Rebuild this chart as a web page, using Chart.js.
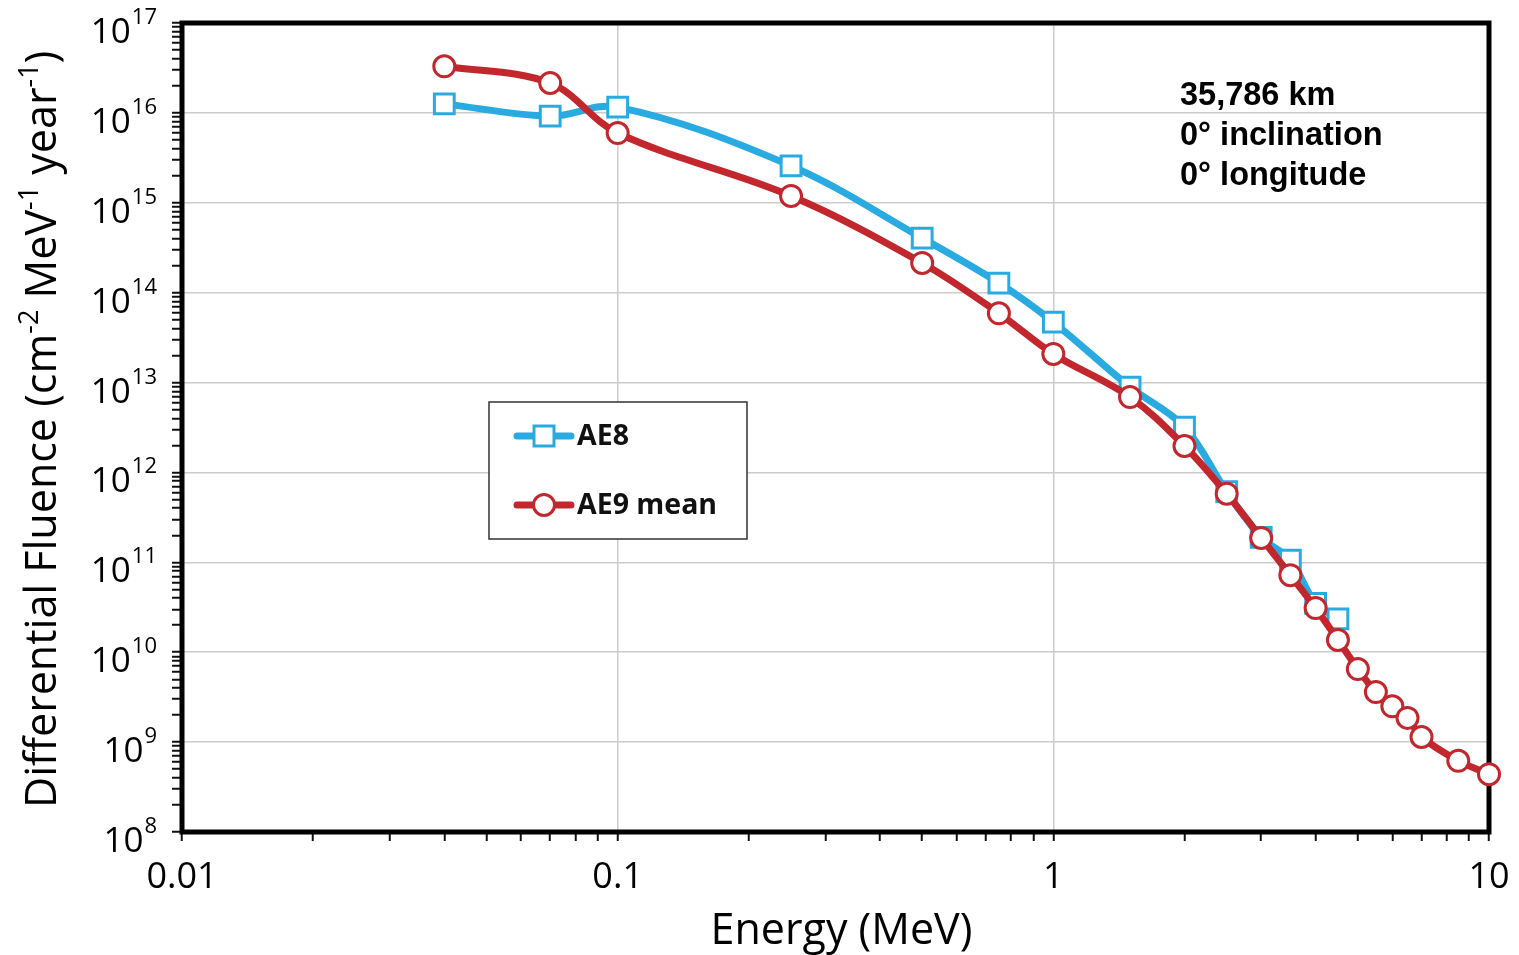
<!DOCTYPE html>
<html lang="en">
<head>
<meta charset="UTF-8">
<title>AE8 vs AE9 mean - differential fluence</title>
<script src="https://cdn.jsdelivr.net/npm/chart.js"></script>
<style>
  html, body { margin: 0; padding: 0; background: #fff; }
  #wrap { width: 1519px; height: 955px; position: relative; }
</style>
</head>
<body>
<div id="wrap"><canvas id="chartCanvas"></canvas></div>
<script>
// values (energy in MeV, fluence in cm^-2 MeV^-1 year^-1)
const ae8Energy = [0.04, 0.07, 0.1, 0.25, 0.5, 0.75, 1, 1.5, 2, 2.5, 3, 3.5, 4, 4.5];
const ae8Fluence = [1.26e16, 9.2e15, 1.16e16, 2.57e15, 4.05e14, 1.28e14, 4.7e13, 8.9e12, 3.2e12, 6.1e11, 1.9e11, 1.06e11, 3.5e10, 2.35e10];
const ae9Energy = [0.04, 0.07, 0.1, 0.25, 0.5, 0.75, 1, 1.5, 2, 2.5, 3, 3.5, 4, 4.5, 5, 5.5, 6, 6.5, 7, 8.5, 10];
const ae9Fluence = [3.3e16, 2.15e16, 5.97e15, 1.19e15, 2.14e14, 5.9e13, 2.08e13, 6.9e12, 1.97e12, 5.8e11, 1.87e11, 7.2e10, 3.1e10, 1.37e10, 6.5e9, 3.6e9, 2.5e9, 1.86e9, 1.14e9, 6.2e8, 4.4e8];
const xTickLabels = ['0.01', '0.1', '1', '10'];
const yExponents = [8, 9, 10, 11, 12, 13, 14, 15, 16, 17];
const infoLines = ['35,786 km', '0\u00b0 inclination', '0\u00b0 longitude'];

const BLUE = '#29abe2';
const RED = '#c1272d';
const FONT = '"Open Sans", sans-serif';

// 1..9 x 10^e ticks so the minor tick marks show
function logTicks(minExp, maxExp) {
  const t = [];
  for (let e = minExp; e < maxExp; e++) {
    for (let m = 1; m < 10; m++) t.push({ value: m * Math.pow(10, e), major: m === 1 });
  }
  t.push({ value: Math.pow(10, maxExp), major: true });
  return t;
}

function pts(xs, ys) {
  return xs.map((x, i) => ({ x: x, y: ys[i] }));
}

const framePlugin = {
  id: 'frame',
  beforeDatasetsDraw(chart) {
    const a = chart.chartArea, ctx = chart.ctx;
    ctx.save();
    ctx.strokeStyle = '#000';
    ctx.lineWidth = 5;
    ctx.strokeRect(a.left, a.top, a.right - a.left, a.bottom - a.top);
    ctx.restore();
  }
};

const textPlugin = {
  id: 'texts',
  afterDraw(chart) {
    const ctx = chart.ctx, ys = chart.scales.y, a = chart.chartArea;
    ctx.save();
    ctx.fillStyle = '#000';

    // y tick labels 10^n
    yExponents.forEach(e => {
      const py = ys.getPixelForValue(Math.pow(10, e));
      ctx.font = '22px ' + FONT;
      const sup = String(e);
      const sw = ctx.measureText(sup).width;
      ctx.textAlign = 'left';
      ctx.textBaseline = 'alphabetic';
      const right = 157;
      ctx.fillText(sup, right - sw, py + 1);
      ctx.font = '35px ' + FONT;
      const bw = ctx.measureText('10').width;
      ctx.fillText('10', right - sw - bw - 1, py + 20);
    });

    // y axis title with superscripts
    const parts = [['Differential Fluence (cm', 0], ['-2', 1], [' MeV', 0], ['-1', 1], [' year', 0], ['-1', 1], [')', 0]];
    ctx.save();
    ctx.translate(56, 808);
    ctx.rotate(-Math.PI / 2);
    let x = 0;
    parts.forEach(p => {
      ctx.font = (p[1] ? '27px ' : '43px ') + FONT;
      ctx.fillText(p[0], x, p[1] ? -18 : 0);
      x += ctx.measureText(p[0]).width;
    });
    ctx.restore();

    // x axis title
    ctx.font = '43px ' + FONT;
    ctx.textAlign = 'center';
    ctx.fillText('Energy (MeV)', (a.left + a.right) / 2 + 6, 944);

    // annotation
    ctx.font = 'bold 32.5px "Liberation Sans", Arial, sans-serif';
    ctx.textAlign = 'left';
    infoLines.forEach((s, i) => ctx.fillText(s, 1180, 105 + i * 40));

    // legend
    const bx = 489, by = 402, bw = 258, bh = 137;
    ctx.fillStyle = '#fff';
    ctx.fillRect(bx, by, bw, bh);
    ctx.strokeStyle = '#333';
    ctx.lineWidth = 1.5;
    ctx.strokeRect(bx, by, bw, bh);
    chart.data.datasets.forEach((ds, i) => {
      const cy = by + 34 + i * 69;
      ctx.strokeStyle = ds.borderColor;
      ctx.lineWidth = 7;
      ctx.lineCap = 'round';
      ctx.beginPath();
      ctx.moveTo(517, cy);
      ctx.lineTo(571, cy);
      ctx.stroke();
      ctx.fillStyle = '#fff';
      ctx.lineWidth = 3;
      ctx.beginPath();
      if (ds.pointStyle === 'rect') ctx.rect(534, cy - 10, 20, 20);
      else ctx.arc(544, cy, 10.5, 0, Math.PI * 2);
      ctx.fill();
      ctx.stroke();
      ctx.fillStyle = '#111';
      ctx.font = 'bold 28.5px ' + FONT;
      ctx.textBaseline = 'middle';
      ctx.fillText(ds.label, 577, cy + 1);
      ctx.textBaseline = 'alphabetic';
    });
    ctx.restore();
  }
};

new Chart(document.getElementById('chartCanvas'), {
  type: 'line',
  data: {
    datasets: [
      {
        label: 'AE8', data: pts(ae8Energy, ae8Fluence), order: 2,
        borderColor: BLUE, borderWidth: 7, tension: 0.35,
        pointStyle: 'rect', pointRadius: 14, pointBorderWidth: 3,
        pointBackgroundColor: '#fff', pointBorderColor: BLUE, clip: false
      },
      {
        label: 'AE9 mean', data: pts(ae9Energy, ae9Fluence), order: 1,
        borderColor: RED, borderWidth: 7, tension: 0.35,
        pointStyle: 'circle', pointRadius: 10.5, pointBorderWidth: 3,
        pointBackgroundColor: '#fff', pointBorderColor: RED, clip: false
      }
    ]
  },
  options: {
    responsive: true,
    maintainAspectRatio: false,
    animation: false,
    layout: { padding: { top: 23, right: 30, left: 0, bottom: 0 } },
    plugins: { legend: { display: false }, tooltip: { enabled: false } },
    scales: {
      x: {
        type: 'logarithmic', min: 0.01, max: 10,
        afterBuildTicks(s) { s.ticks = logTicks(-2, 1); },
        afterFit(s) { s.height = 123; s.paddingLeft = 0; s.paddingRight = 0; },
        border: { display: false },
        grid: {
          color: c => (c.tick && c.tick.major ? '#cccccc' : 'rgba(0,0,0,0)'),
          lineWidth: 1.5, tickColor: '#111', tickLength: 9, tickWidth: 2
        },
        ticks: {
          autoSkip: false, maxRotation: 0, padding: 15, color: '#000',
          font: { family: FONT, size: 36 },
          callback: function (v, i, t) {
            if (!t[i].major) return '';
            const e = Math.round(Math.log10(v)) + 2;
            return xTickLabels[e];
          }
        }
      },
      y: {
        type: 'logarithmic', min: 1e8, max: 1e17,
        afterBuildTicks(s) { s.ticks = logTicks(8, 17); },
        afterFit(s) { s.width = 182; },
        border: { display: false },
        grid: {
          color: c => (c.tick && c.tick.major ? '#cccccc' : 'rgba(0,0,0,0)'),
          lineWidth: 1.5, tickColor: '#111', tickLength: 10, tickWidth: 2
        },
        ticks: { display: false }
      }
    }
  },
  plugins: [framePlugin, textPlugin]
});
</script>
</body>
</html>
